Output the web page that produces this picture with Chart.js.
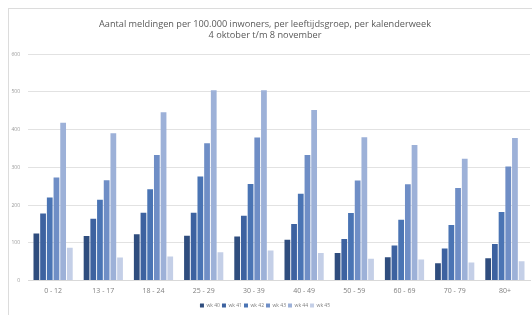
<!DOCTYPE html>
<html>
<head>
<meta charset="utf-8">
<script src="https://cdn.jsdelivr.net/npm/chart.js@4"></script>
<style>
  html, body { margin: 0; padding: 0; background: #fff; }
  #wrap { position: relative; width: 532px; height: 315px; overflow: hidden; }
  #frame { position: absolute; left: 8px; top: 8px; width: 600px; height: 400px;
           border-left: 1px solid #dcdcdc; border-top: 1px solid #dcdcdc; }
  canvas { position: absolute; left: 0; top: 0; }
</style>
</head>
<body>
<div id="wrap">
  <div id="frame"></div>
  <canvas id="myChart" width="532" height="318"></canvas>
</div>
<script>
// leeftijdsgroepen en weken
const ageGroups = ["0 - 12", "13 - 17", "18 - 24", "25 - 29", "30 - 39", "40 - 49", "50 - 59", "60 - 69", "70 - 79", "80+"];
const weekLabels = ["wk 40", "wk 41", "wk 42", "wk 43", "wk 44", "wk 45"];
const yTicks = [0, 100, 200, 300, 400, 500, 600];

const wk40 = [125, 118, 123, 119, 117, 108, 73, 62, 46, 59];
const wk41 = [178, 164, 180, 180, 172, 150, 110, 93, 85, 97];
const wk42 = [220, 214, 242, 276, 256, 230, 179, 161, 147, 182];
const wk43 = [273, 266, 333, 364, 379, 333, 265, 255, 245, 302];
const wk44 = [418, 390, 446, 504, 504, 452, 380, 359, 323, 378];
const wk45 = [87, 61, 64, 75, 80, 73, 58, 56, 48, 51];

const colors = ["#2f4d7e", "#3d62a0", "#4a74b4", "#6f8ec6", "#9db1d8", "#c4cfe7"];
const series = [wk40, wk41, wk42, wk43, wk44, wk45];

function drawChart() {
  let ctx = document.getElementById("myChart").getContext("2d");
  new Chart(ctx, {
    type: "bar",
    data: {
      labels: ageGroups,
      datasets: series.map((values, i) => ({
        label: weekLabels[i],
        data: values,
        backgroundColor: colors[i],
        borderWidth: 0,
        categoryPercentage: 0.8,
        barPercentage: 0.86,
      })),
    },
    options: {
      responsive: false,
      animation: false,
      layout: { padding: { left: 0, right: 2, top: 0, bottom: 0 } },
      plugins: {
        title: {
          display: true,
          text: ["Aantal meldingen per 100.000 inwoners, per leeftijdsgroep, per kalenderweek", "4 oktober t/m 8 november"],
          color: "#595959",
          font: { family: "Open Sans", size: 9.2, weight: "normal", lineHeight: 1.2 },
          padding: { top: 19, bottom: 13 },
        },
        legend: {
          position: "bottom",
          labels: {
            color: "#7f7f7f",
            font: { family: "Open Sans", size: 5 },
            boxWidth: 4,
            boxHeight: 4,
            padding: 2,
          },
        },
        tooltip: { enabled: false },
      },
      scales: {
        x: {
          grid: { display: false, drawTicks: false },
          border: { color: "#d9d9d9" },
          ticks: { color: "#7f7f7f", font: { family: "Open Sans", size: 7 }, padding: 6, maxRotation: 0 },
        },
        y: {
          min: 0,
          max: 600,
          afterBuildTicks: (axis) => { axis.ticks = yTicks.map((v) => ({ value: v })); },
          afterFit: (axis) => { axis.width = 28; },
          grid: { color: "#e2e2e2", drawTicks: false },
          border: { display: false },
          ticks: { color: "#9a9a9a", font: { family: "Open Sans", size: 5 }, padding: 8 },
        },
      },
    },
  });
}

drawChart();
</script>
</body>
</html>
